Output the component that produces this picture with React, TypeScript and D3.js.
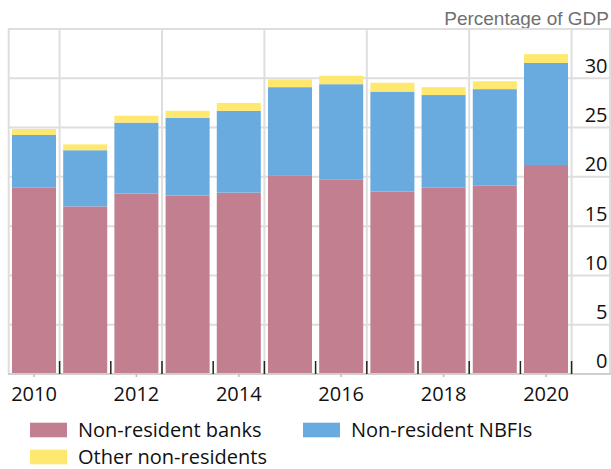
import React from 'react';
import * as d3 from 'd3';

// values (percentage of GDP)
const years = ['2010', '2011', '2012', '2013', '2014', '2015', '2016', '2017', '2018', '2019', '2020'];
const banks = [18.9, 17.0, 18.3, 18.1, 18.4, 20.1, 19.7, 18.5, 18.9, 19.1, 21.2];
const nbfis = [5.35, 5.7, 7.2, 7.9, 8.3, 9.0, 9.7, 10.15, 9.4, 9.8, 10.35];
const others = [0.6, 0.6, 0.7, 0.7, 0.8, 0.8, 0.85, 0.9, 0.8, 0.8, 0.9];
const yTicks = [0, 5, 10, 15, 20, 25, 30];
const yLines = [0, 5, 10, 15, 20, 25, 30, 35];
const xLabels = ['2010', '2012', '2014', '2016', '2018', '2020'];

const seriesNames = ['Non-resident banks', 'Non-resident NBFIs', 'Other non-residents'];
const seriesKeys = ['banks', 'nbfis', 'others'];
const colors = ['#c27f8f', '#69abdf', '#ffe870'];

const W = 611;
const H = 469;
const font = "'Open Sans', sans-serif";

const App: React.FC = () => {
  const rows = years.map((y, i) => ({ year: y, banks: banks[i], nbfis: nbfis[i], others: others[i] }));
  const stacked = d3.stack<any>().keys(seriesKeys)(rows);

  const x = d3.scaleBand().domain(years).range([8.4, 571.6]).paddingInner(0.14).paddingOuter(0.07);
  const y = d3.scaleLinear().domain([0, 35]).range([374, 29]);

  const step = x.step();
  const x0 = x.range()[0];
  const boundaries = d3.range(1, years.length + 1).map(k => x0 + k * step);

  return (
    <div style={{ position: 'absolute', left: 0, top: 0 }}>
      <svg width={W} height={H} style={{ display: 'block', fontFamily: font }}>
        <rect width={W} height={H} fill="#fff" />
        <text x={609} y={25} textAnchor="end" fill="#707070"
          style={{ fontFamily: "'Liberation Sans', Arial, sans-serif", fontSize: 19 }}>
          Percentage of GDP
        </text>

        {/* gridlines */}
        {yLines.map(v => (
          <line key={'h' + v} x1={8} x2={611} y1={y(v)} y2={y(v)} stroke="#dedede" strokeWidth={2} />
        ))}
        {boundaries.filter((_, k) => k % 2 === 0).map((b, k) => (
          <line key={'v' + k} x1={b} x2={b} y1={y(35)} y2={y(0)} stroke="#dedede" strokeWidth={2} />
        ))}
        <line x1={8.7} x2={8.7} y1={y(35)} y2={y(0)} stroke="#dedede" strokeWidth={2} />
        <line x1={610} x2={610} y1={y(35)} y2={y(0)} stroke="#dedede" strokeWidth={2} />

        {/* bars */}
        {stacked.map((layer, si) => (
          <g key={layer.key} fill={colors[si]}>
            {layer.map((d, i) => (
              <rect key={i} x={x(years[i])} width={x.bandwidth()}
                y={y(d[1])} height={y(d[0]) - y(d[1])} />
            ))}
          </g>
        ))}

        {/* x axis */}
        <line x1={8} x2={611} y1={y(0)} y2={y(0)} stroke="#cfcfcf" strokeWidth={2} />
        {boundaries.map((b, k) => (
          <line key={'t' + k} x1={b} x2={b} y1={y(0) - 13} y2={y(0)} stroke="#222" strokeWidth={1.5} />
        ))}
        {xLabels.map(l => (
          <g key={l}>
            <line x1={x(l)! + x.bandwidth() / 2} x2={x(l)! + x.bandwidth() / 2} y1={y(0)} y2={y(0) + 3}
              stroke="#bbb" strokeWidth={1.5} />
            <text x={x(l)! + x.bandwidth() / 2} y={401} textAnchor="middle" fill="#111" fontSize={20}>{l}</text>
          </g>
        ))}

        {/* y axis labels on the right */}
        {yTicks.map(v => (
          <text key={'y' + v} x={607.5} y={y(v) - 5.6} textAnchor="end" fill="#111" fontSize={20}>{v}</text>
        ))}

        {/* legend */}
        {seriesNames.map((name, i) => {
          const col = i === 1 ? 1 : 0;
          const row = i === 2 ? 1 : 0;
          const lx = col === 0 ? 30 : 303;
          const ly = 422.7 + row * 27;
          return (
            <g key={name}>
              <rect x={lx} y={ly} width={37} height={14.6} fill={colors[i]} />
              <text x={lx + 48} y={ly + 14.4} fill="#111" fontSize={20}>{name}</text>
            </g>
          );
        })}
      </svg>
    </div>
  );
};

export default App;
